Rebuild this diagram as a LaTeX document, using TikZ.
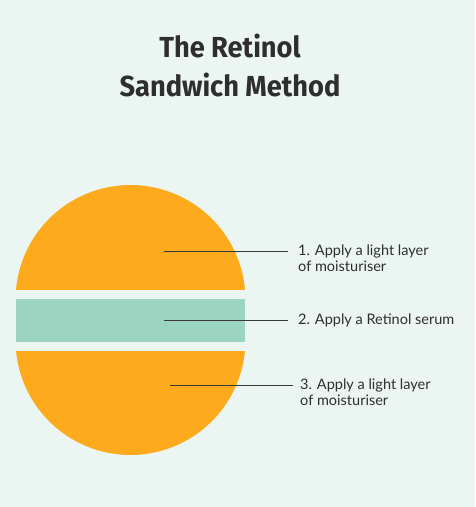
\documentclass[tikz,border=0pt]{standalone}
\usepackage{fontspec}
\setmainfont{Lato}
\newfontfamily\titlefont[FakeStretch=0.94]{Fira Sans}
\usetikzlibrary{positioning,calc}
\definecolor{bgmint}{HTML}{EBF6F2}
\definecolor{bun}{HTML}{FDAB1D}
\definecolor{serum}{HTML}{9BD4C0}
\definecolor{ink}{HTML}{2E2E2E}
\definecolor{lead}{HTML}{3A3A3A}

\begin{document}
\begin{tikzpicture}[x=1pt,y=1pt]
\tikzstyle{step label}=[anchor=base west,align=left,inner sep=0pt,text=ink,font=\fontsize{14.5}{16.5}\selectfont]
\tikzstyle{leader}=[draw=lead,line width=0.9pt]
\fill[bgmint] (0,0) rectangle (475,507);
\useasboundingbox (0,0) rectangle (475,507);

% title
\node[text=ink,align=center,inner sep=0pt,anchor=base,font=\titlefont\bfseries\fontsize{29}{39}\selectfont] (title) at (230,410) {The Retinol\\Sandwich Method};

% the sandwich
\fill[bun] (130.5,207) ++(175:115) arc[start angle=175,end angle=5,radius=115] -- cycle;
\fill[serum] (16,208) rectangle (245,165);
\fill[bun] (130.5,167) ++(185.5:115) arc[start angle=185.5,end angle=354.5,radius=115] -- cycle;

% labels
\node[step label] (top) at (298,235) {1. Apply a light layer\\of moisturiser};
\node[step label] (mid) at (298,182) {2. Apply a Retinol serum};
\node[step label] (bot) at (300,101) {3. Apply a light layer\\of moisturiser};

\coordinate (p1) at (164,256);
\coordinate (p2) at (164,187);
\coordinate (p3) at (170,122);
\draw[leader,shorten >=10pt] (p1) -- (p1 -| top.west);
\draw[leader,shorten >=10pt] (p2) -- (p2 -| mid.west);
\draw[leader,shorten >=7pt] (p3) -- (p3 -| bot.west);
\end{tikzpicture}
\end{document}
